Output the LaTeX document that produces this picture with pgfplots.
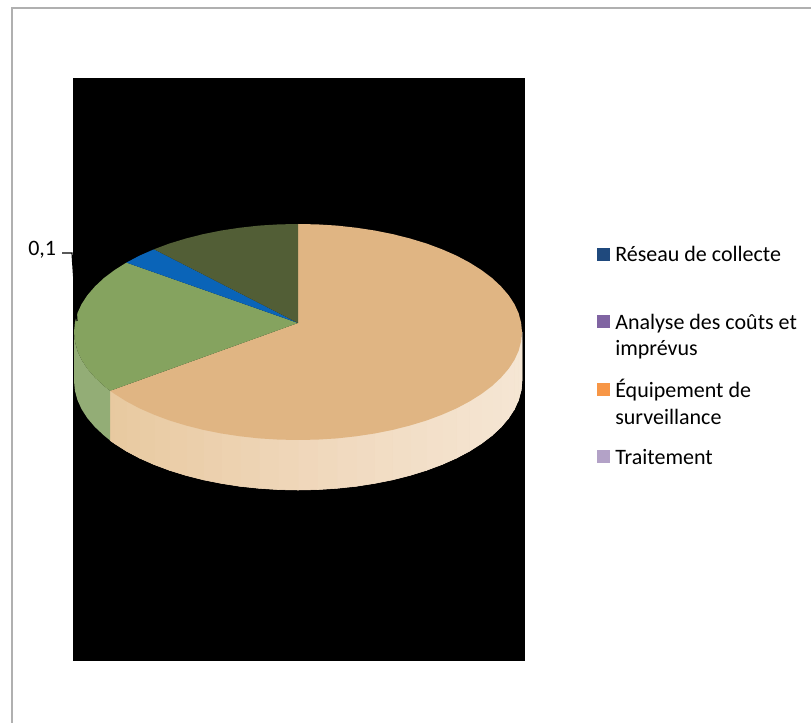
\documentclass[border=0pt]{standalone}
\usepackage{fontspec}
\setmainfont{Carlito}
\usepackage{pgfplots}
\pgfplotsset{compat=1.18}
\definecolor{tanTop}{HTML}{E0B583}
\definecolor{tanSide}{HTML}{F0D8BC}
\definecolor{greenTop}{HTML}{85A35F}
\definecolor{greenSide}{HTML}{93AD76}
\definecolor{darkTop}{HTML}{525E36}
\definecolor{blueTop}{HTML}{0A64B8}
\definecolor{frameGray}{HTML}{B0B0B0}
\begin{document}
\begin{tikzpicture}
\begin{axis}[
  scale only axis, width=608.25pt, height=542.25pt,
  xmin=0, xmax=811, ymin=0, ymax=723, y dir=reverse,
  axis lines=none,
  colormap={wall}{rgb255=(232,201,160) rgb255=(240,216,188) rgb255=(245,230,212)},
  point meta min=110, point meta max=522,
]
% white page behind everything
\addplot[fill=white, draw=none] coordinates {(0,0) (811,0) (811,723) (0,723)} -- cycle;
% outer frame, open on the right and at the bottom
\addplot[frameGray, line width=1.2pt] coordinates {(12,723) (12,8) (811,8)};
% black plot area
\addplot[fill=black, draw=none] coordinates {(73,78) (525,78) (525,661) (73,661)} -- cycle;

% plain backing under the rim wall, so that no seam shows between its bands
\addplot[fill=tanSide, draw=none] coordinates {
(522,340) (522,381) (521.1,390.5) (518.6,399.9) (514.4,409.2) (508.5,418.3) (501,427.1) (492,435.5)
(481.5,443.5) (469.6,451.1) (456.4,458.1) (442,464.5) (426.5,470.3) (410,475.4) (392.7,479.8)
(374.6,483.4) (356,486.3) (336.9,488.3) (317.5,489.6) (298,490) (278.5,489.6) (259.1,488.3)
(240,486.3) (221.4,483.4) (203.3,479.8) (186,475.4) (169.5,470.3) (154,464.5) (139.6,458.1)
(126.4,451.1) (114.5,443.5) (110.1,440.4) (110.1,390.8)
} -- cycle;
% rim wall of the large slice
\addplot[surf, shader=flat mean, mesh/rows=2, point meta=x, colormap name=wall] table {
x y
522 332
521.1 341.4
518.6 350.8
514.4 360.0
508.5 368.9
501.0 377.6
492.0 386.0
481.5 393.9
469.6 401.4
456.4 408.4
442.0 414.7
426.5 420.5
410.0 425.5
392.7 429.9
374.6 433.5
356.0 436.3
336.9 438.4
317.5 439.6
298 440
278.5 439.6
259.1 438.4
240.0 436.3
221.4 433.5
203.3 429.9
186.0 425.5
169.5 420.5
154.0 414.7
139.6 408.4
126.4 401.4
114.5 393.9
110.1 390.8
522 381
521.1 390.5
518.6 399.9
514.4 409.2
508.5 418.3
501.0 427.1
492.0 435.5
481.5 443.5
469.6 451.1
456.4 458.1
442.0 464.5
426.5 470.3
410.0 475.4
392.7 479.8
374.6 483.4
356.0 486.3
336.9 488.3
317.5 489.6
298 490
278.5 489.6
259.1 488.3
240.0 486.3
221.4 483.4
203.3 479.8
186.0 475.4
169.5 470.3
154.0 464.5
139.6 458.1
126.4 451.1
114.5 443.5
110.1 440.4
};

% rim wall of the green slice
\addplot[fill=greenSide, draw=none] coordinates {
(110.1,390.8) (104,386) (95,377.6) (87.5,368.9) (81.6,360) (77.4,350.8) (74.9,341.4) (74,332)
(74,381) (74.9,390.5) (77.4,399.9) (81.6,409.2) (87.5,418.3) (95,427.1) (104,435.5) (110.1,440.4)
} -- cycle;

% top faces
\addplot[fill=tanTop, draw=none] coordinates {
(298,323) (298,224) (317.5,224.4) (336.9,225.6) (356,227.7) (374.6,230.5) (392.7,234.1) (410,238.5)
(426.5,243.5) (442,249.3) (456.4,255.6) (469.6,262.6) (481.5,270.1) (492,278) (501,286.4) (508.5,295.1)
(514.4,304) (518.6,313.2) (521.1,322.6) (522,332) (521.1,341.4) (518.6,350.8) (514.4,360) (508.5,368.9)
(501,377.6) (492,386) (481.5,393.9) (469.6,401.4) (456.4,408.4) (442,414.7) (426.5,420.5) (410,425.5)
(392.7,429.9) (374.6,433.5) (356,436.3) (336.9,438.4) (317.5,439.6) (298,440) (278.5,439.6) (259.1,438.4)
(240,436.3) (221.4,433.5) (203.3,429.9) (186,425.5) (169.5,420.5) (154,414.7) (139.6,408.4) (126.4,401.4)
(114.5,393.9) (110.1,390.8)
} -- cycle;
\addplot[fill=greenTop, draw=none] coordinates {
(298,323) (110.1,390.8) (104,386) (95,377.6) (87.5,368.9) (81.6,360) (77.4,350.8) (74.9,341.4) (74,332)
(74.9,322.6) (77.4,313.2) (81.6,304) (87.5,295.1) (95,286.4) (104,278) (114.5,270.1) (126.4,262.6)
} -- cycle;
\addplot[fill=blueTop, draw=none] coordinates {
(298,323) (126.4,262.6) (139.6,255.6) (154,249.3)
} -- cycle;
\addplot[fill=darkTop, draw=none] coordinates {
(298,323) (154,249.3) (169.5,243.5) (186,238.5) (203.3,234.1) (221.4,230.5) (240,227.7) (259.1,225.6)
(278.5,224.4) (298,224)
} -- cycle;

% data label leader
\addplot[black, line width=0.9pt] coordinates {(62,253) (72,253) (73.5,275) (77,321)};
\node[anchor=west, inner sep=0pt, font=\fontsize{16.5pt}{18pt}\selectfont] at (axis cs:28,250) {0,1};

% legend keys
\addplot[only marks, mark=square*, mark size=4.6pt, color={rgb,255:red,31;green,73;blue,125}] coordinates {(603,254)};
\addplot[only marks, mark=square*, mark size=4.6pt, color={rgb,255:red,128;green,100;blue,162}] coordinates {(603,321.5)};
\addplot[only marks, mark=square*, mark size=4.6pt, color={rgb,255:red,247;green,150;blue,70}] coordinates {(603,389)};
\addplot[only marks, mark=square*, mark size=4.6pt, color={rgb,255:red,179;green,162;blue,199}] coordinates {(603,456.5)};

% legend text
\begin{scope}[every node/.style={anchor=base west, inner sep=0pt, font=\fontsize{16.5pt}{18pt}\selectfont}]
\node at (axis cs:615,262) {Réseau de collecte};
\node at (axis cs:615,330) {Analyse des coûts et};
\node at (axis cs:615,356) {imprévus};
\node at (axis cs:615,397.5) {Équipement de};
\node at (axis cs:615,424.5) {surveillance};
\node at (axis cs:615,465) {Traitement};
\end{scope}
\end{axis}
\end{tikzpicture}
\end{document}
